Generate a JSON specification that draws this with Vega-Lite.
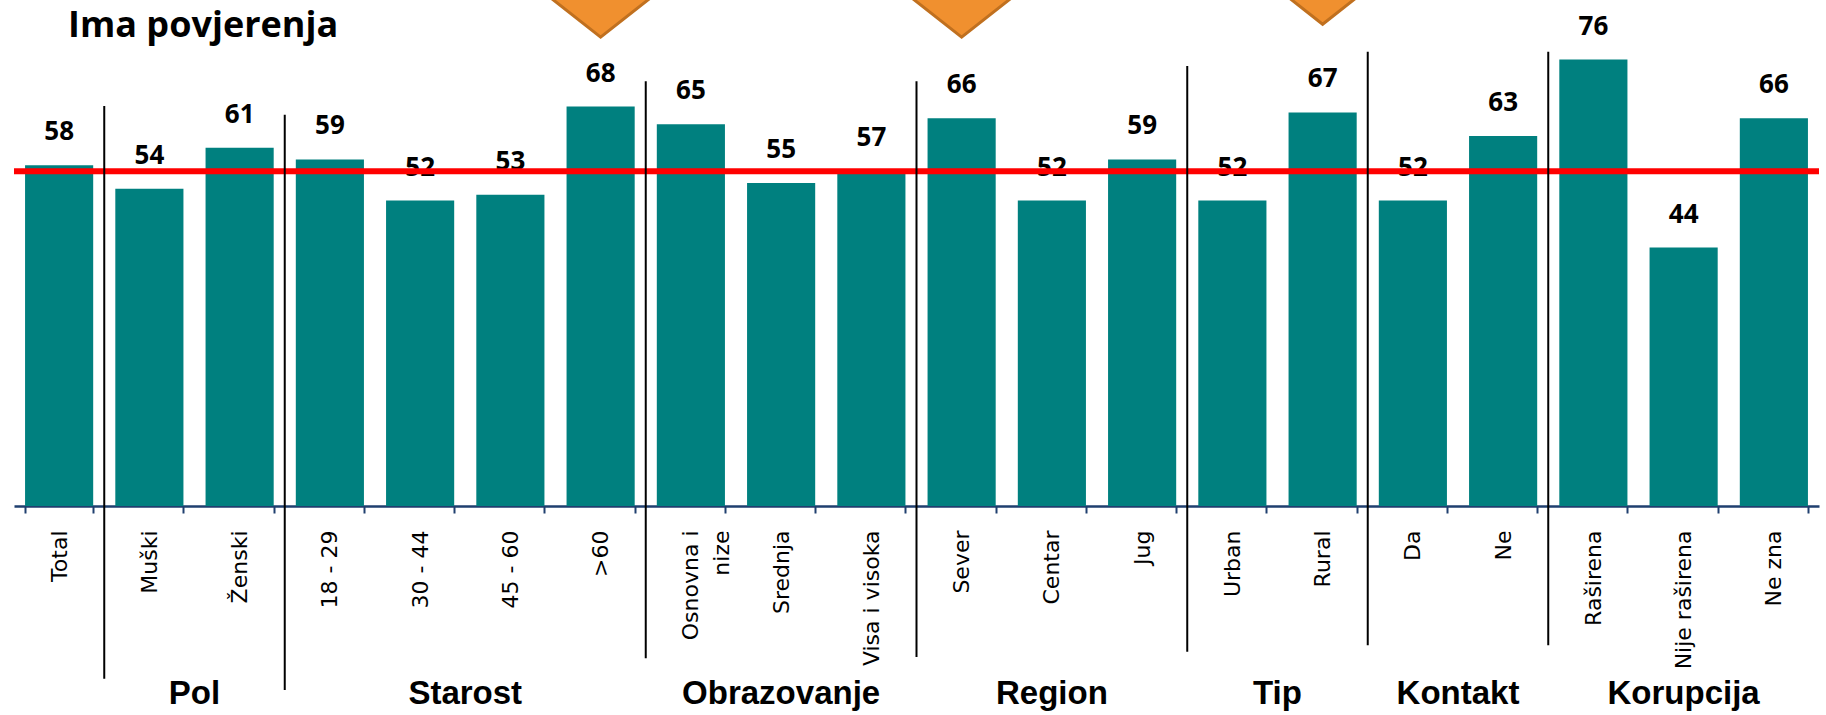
{
  "$schema": "https://vega.github.io/schema/vega-lite/v6.json",
  "width": 1805,
  "height": 470,
  "autosize": {"type": "none"},
  "padding": {"left": 14, "top": 36, "right": 7, "bottom": 209},
  "background": "white",
  "config": {"view": {"stroke": null}},
  "title": {
    "text": "Ima povjerenja",
    "anchor": "start",
    "frame": "group",
    "font": "Open Sans",
    "fontSize": 36,
    "fontWeight": 700,
    "color": "#000000",
    "dx": 54,
    "dy": 115,
    "baseline": "alphabetic",
    "offset": 0
  },
  "datasets": {
    "bars": [
      {"cat": "Total", "value": 58},
      {"cat": "Muški", "value": 54},
      {"cat": "Ženski", "value": 61},
      {"cat": "18 - 29", "value": 59},
      {"cat": "30 - 44", "value": 52},
      {"cat": "45 - 60", "value": 53},
      {"cat": ">60", "value": 68},
      {"cat": "Osnovna i nize", "value": 65},
      {"cat": "Srednja", "value": 55},
      {"cat": "Visa i visoka", "value": 57},
      {"cat": "Sever", "value": 66},
      {"cat": "Centar", "value": 52},
      {"cat": "Jug", "value": 59},
      {"cat": "Urban", "value": 52},
      {"cat": "Rural", "value": 67},
      {"cat": "Da", "value": 52},
      {"cat": "Ne", "value": 63},
      {"cat": "Raširena", "value": 76},
      {"cat": "Nije raširena", "value": 44},
      {"cat": "Ne zna", "value": 66}
    ],
    "avg": [{"avg": 57}],
    "separators": [
      {"cat": "Muški", "top": 68.1, "bottom": -29.4},
      {"cat": "18 - 29", "top": 66.6, "bottom": -31.3},
      {"cat": "Osnovna i nize", "top": 72.3, "bottom": -25.9},
      {"cat": "Sever", "top": 72.3, "bottom": -25.7},
      {"cat": "Urban", "top": 74.9, "bottom": -24.8},
      {"cat": "Da", "top": 77.3, "bottom": -23.7},
      {"cat": "Raširena", "top": 77.3, "bottom": -23.7}
    ],
    "groupsEven": [
      {"group": "Pol", "anchor": "Ženski"},
      {"group": "Starost", "anchor": "45 - 60"},
      {"group": "Tip", "anchor": "Rural"},
      {"group": "Kontakt", "anchor": "Ne"}
    ],
    "groupsOdd": [
      {"group": "Obrazovanje", "anchor": "Srednja"},
      {"group": "Region", "anchor": "Centar"},
      {"group": "Korupcija", "anchor": "Nije raširena"}
    ],
    "arrows": [
      {"cat": ">60", "tip": 79.8},
      {"cat": "Sever", "tip": 79.8},
      {"cat": "Rural", "tip": 82.0}
    ]
  },
  "layer": [
    {
      "data": {"name": "bars"},
      "mark": {"type": "bar", "color": "#00807F"},
      "encoding": {
        "x": {
          "field": "cat",
          "type": "nominal",
          "scale": {
            "domain": ["Total", "Muški", "Ženski", "18 - 29", "30 - 44", "45 - 60", ">60", "Osnovna i nize", "Srednja", "Visa i visoka", "Sever", "Centar", "Jug", "Urban", "Rural", "Da", "Ne", "Raširena", "Nije raširena", "Ne zna"],
            "paddingInner": 0.245,
            "paddingOuter": 0.1225
          },
          "axis": {
            "title": null,
            "labelAngle": -90,
            "labelFont": "DejaVu Sans",
            "labelFontSize": 22,
            "labelColor": "#000000",
            "labelPadding": 17,
            "labelLineHeight": 31,
            "labelLimit": 0,
            "labelOverlap": false,
            "labelExpr": "datum.value == 'Osnovna i nize' ? ['Osnovna i', 'nize'] : datum.value",
            "ticks": true,
            "tickBand": "extent",
            "tickSize": 7,
            "tickWidth": 2,
            "tickColor": "#1F3F6F",
            "domainColor": "#1F3F6F",
            "domainWidth": 2.5
          }
        },
        "y": {
          "field": "value",
          "type": "quantitative",
          "scale": {"domain": [0, 80], "nice": false},
          "axis": null
        }
      }
    },
    {
      "data": {"name": "bars"},
      "mark": {"type": "text", "font": "Open Sans", "fontSize": 26, "fontWeight": 700, "color": "#000000", "baseline": "alphabetic", "dy": -25},
      "encoding": {
        "x": {"field": "cat", "type": "nominal"},
        "y": {"field": "value", "type": "quantitative"},
        "text": {"field": "value", "type": "quantitative"}
      }
    },
    {
      "data": {"name": "avg"},
      "mark": {"type": "rule", "color": "#FF0000", "strokeWidth": 6},
      "encoding": {
        "y": {"field": "avg", "type": "quantitative"}
      }
    },
    {
      "data": {"name": "separators"},
      "mark": {"type": "rule", "color": "#000000", "strokeWidth": 2},
      "encoding": {
        "x": {"field": "cat", "type": "nominal", "bandPosition": -0.1623},
        "y": {"field": "top", "type": "quantitative"},
        "y2": {"field": "bottom"}
      }
    },
    {
      "data": {"name": "groupsEven"},
      "mark": {"type": "text", "font": "Liberation Sans", "fontSize": 33, "fontWeight": "bold", "color": "#000000", "baseline": "alphabetic", "align": "center"},
      "encoding": {
        "x": {"field": "anchor", "type": "nominal", "bandPosition": -0.1623},
        "y": {"datum": -33.7},
        "text": {"field": "group"}
      }
    },
    {
      "data": {"name": "groupsOdd"},
      "mark": {"type": "text", "font": "Liberation Sans", "fontSize": 33, "fontWeight": "bold", "color": "#000000", "baseline": "alphabetic", "align": "center"},
      "encoding": {
        "x": {"field": "anchor", "type": "nominal", "bandPosition": 0.5},
        "y": {"datum": -33.7},
        "text": {"field": "group"}
      }
    },
    {
      "data": {"name": "arrows"},
      "mark": {"type": "point", "shape": "M0,0L-1.27,-1L1.27,-1Z", "filled": true, "fill": "#F0902F", "stroke": "#C0701F", "strokeWidth": 3, "opacity": 1, "size": 14400},
      "encoding": {
        "x": {"field": "cat", "type": "nominal"},
        "y": {"field": "tip", "type": "quantitative"}
      }
    }
  ]
}
